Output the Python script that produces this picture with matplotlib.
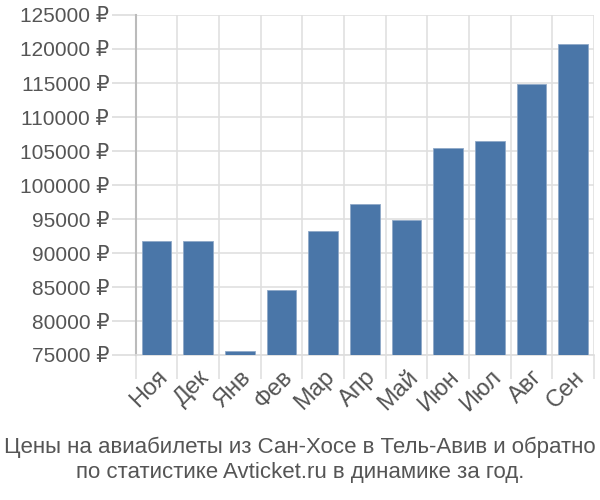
import matplotlib
matplotlib.use("Agg")
import matplotlib.pyplot as plt

# Данные (оценены по картинке)
months = ["Ноя", "Дек", "Янв", "Фев", "Мар", "Апр", "Май", "Июн", "Июл", "Авг", "Сен"]
prices = [91800, 91800, 75600, 84500, 93300, 97200, 94800, 105500, 106400, 114800, 120700]
yticks = list(range(75000, 125001, 5000))
caption = "Цены на авиабилеты из Сан-Хосе в Тель-Авив и обратно\nпо статистике Avticket.ru в динамике за год."

plt.rcParams['font.family'] = ['Liberation Sans', 'DejaVu Sans']

fig = plt.figure(figsize=(6, 5), dpi=100)
ax = fig.add_axes([0.226, 0.29, 0.764, 0.68])

x = list(range(len(months)))
ax.bar(x, [p - 75000 for p in prices], bottom=75000, width=0.71,
       color="#4a76a8", edgecolor="#8fa9c8", linewidth=0.6, zorder=3)

ax.set_xlim(-0.5, len(months) - 0.5)
ax.set_ylim(75000, 125000)
ax.set_yticks(yticks)
ax.set_yticklabels([f"{v} ₽" for v in yticks], fontsize=15, color="#555555")

# вертикальная сетка между столбцами
ax.set_xticks([i - 0.5 for i in range(len(months) + 1)], minor=True)
ax.set_xticks(x)
ax.set_xticklabels(months, rotation=45, ha="right", rotation_mode="anchor",
                   fontsize=17, color="#555555")
ax.tick_params(axis="x", which="major", length=0, pad=8)
ax.tick_params(axis="x", which="minor", length=17, color="#e0e0e0", width=1.2)
ax.tick_params(axis="y", length=17, color="#dddddd", width=1.2, pad=2)

ax.grid(True, axis="y", color="#e0e0e0", linewidth=1.2, zorder=0)
ax.grid(True, axis="x", which="minor", color="#e0e0e0", linewidth=1.2, zorder=0)

for side in ["top", "right"]:
    ax.spines[side].set_visible(False)
ax.spines["left"].set_color("#bbbbbb")
ax.spines["left"].set_linewidth(1.5)
ax.spines["bottom"].set_color("#dddddd")
ax.spines["bottom"].set_linewidth(1.2)

fig.text(0.5, 0.08, caption, ha="center", va="center", fontsize=16,
         color="#555555", linespacing=1.25)

fig.savefig("out.png", dpi=100)
